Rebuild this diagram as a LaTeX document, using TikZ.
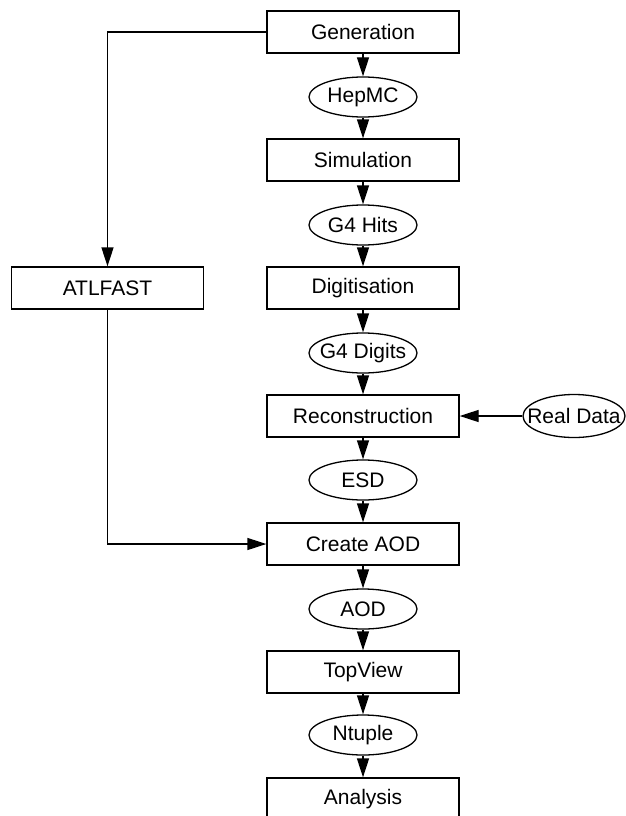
\documentclass[tikz,border=0pt]{standalone}
\usepackage{fontspec}
\setmainfont{Liberation Sans}
\usetikzlibrary{shapes.geometric,arrows.meta}
\begin{document}
\begin{tikzpicture}[x=1pt,y=-1pt,
  font=\fontsize{21}{25}\selectfont,
  stepbox/.style={draw, line width=1.3pt, minimum width=192pt, minimum height=42pt, inner sep=0pt},
  databox/.style={draw, ellipse, line width=1.3pt, minimum width=108pt, minimum height=40pt, inner sep=0pt},
  flow/.style={line width=1.3pt, -{Triangle[length=19pt,width=12pt]}},
  plain/.style={line width=1.3pt}]
\useasboundingbox (0,0) rectangle (626,816);
\clip (0,0) rectangle (626,816);
\node[stepbox] (gen) at (363,32) {Generation};
\node[databox] (hepmc) at (363,97) {\makebox[0pt]{HepMC}};
\node[stepbox] (sim) at (363,160) {Simulation};
\node[databox] (hits) at (363,225) {\makebox[0pt]{G4 Hits}};
\node[stepbox] (digi) at (363,288) {Digitisation};
\node[databox] (digits) at (363,353) {\makebox[0pt]{G4 Digits}};
\node[stepbox] (reco) at (363,416) {Reconstruction};
\node[databox, minimum width=102pt, minimum height=43pt] (real) at (574,416) {\makebox[0pt]{Real Data}};
\node[databox] (esd) at (363,480) {\makebox[0pt]{ESD}};
\node[stepbox] (aod) at (363,544) {Create AOD};
\node[databox] (aodf) at (363,609) {\makebox[0pt]{AOD}};
\node[stepbox] (top) at (363,672) {TopView};
\node[databox] (ntup) at (363,735) {\makebox[0pt]{Ntuple}};
\node[stepbox] (ana) at (363,799) {Analysis};
\node[stepbox] (fast) at (107.5,288) {ATLFAST};
\draw[flow] (gen) -- (hepmc);
\draw[flow] (hepmc) -- (sim);
\draw[flow] (sim) -- (hits);
\draw[flow] (hits) -- (digi);
\draw[flow] (digi) -- (digits);
\draw[flow] (digits) -- (reco);
\draw[flow] (real) -- (reco);
\draw[flow] (reco) -- (esd);
\draw[flow] (esd) -- (aod);
\draw[flow] (aod) -- (aodf);
\draw[flow] (aodf) -- (top);
\draw[flow] (top) -- (ntup);
\draw[flow] (ntup) -- (ana);
\draw[flow] (gen.west) -| (fast.north);
\draw[flow] (fast.south) |- (aod.west);
\end{tikzpicture}
\end{document}
